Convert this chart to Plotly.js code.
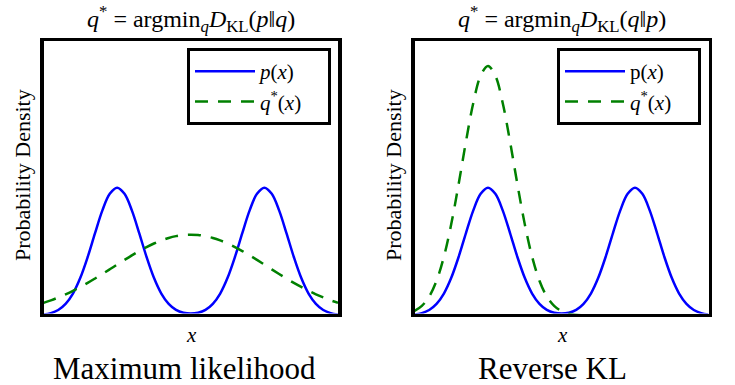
<!DOCTYPE html>
<html>
<head>
<meta charset="utf-8">
<script src="https://cdn.plot.ly/plotly-3.0.1.min.js"></script>
<style>html,body{margin:0;padding:0;background:#fff;}#chart{width:735px;height:385px;}</style>
</head>
<body>
<div id="chart"></div>
<script>
// x positions (shared grid)
var xValues = [-5,-4.75,-4.5,-4.25,-4,-3.75,-3.5,-3.25,-3,-2.75,-2.5,-2.25,-2,-1.75,-1.5,-1.25,-1,-0.75,-0.5,-0.25,0,
  0.25,0.5,0.75,1,1.25,1.5,1.75,2,2.25,2.5,2.75,3,3.25,3.5,3.75,4,4.25,4.5,4.75,5];

// p(x): bimodal target density (same in both panels)
var pValues = [0.0019,0.0048,0.0109,0.0228,0.0429,0.0735,0.1140,0.1605,0.2048,0.2371,0.2490,0.2371,0.2048,0.1605,0.1140,0.0735,0.0429,0.0228,0.0111,0.0055,0.0038,
  0.0055,0.0111,0.0228,0.0429,0.0735,0.1140,0.1605,0.2048,0.2371,0.2490,0.2371,0.2048,0.1605,0.1140,0.0735,0.0429,0.0228,0.0109,0.0048,0.0019];

// q*(x) under forward KL (maximum likelihood): broad, centred
var qForwardValues = [0.0248,0.0297,0.0352,0.0414,0.0482,0.0557,0.0636,0.0721,0.0809,0.0900,0.0992,0.1083,0.1172,0.1256,0.1334,0.1403,0.1463,0.1511,0.1546,0.1568,0.1575,
  0.1568,0.1546,0.1511,0.1463,0.1403,0.1334,0.1256,0.1172,0.1083,0.0992,0.0900,0.0809,0.0721,0.0636,0.0557,0.0482,0.0414,0.0352,0.0297,0.0248];

// q*(x) under reverse KL: narrow, on the left mode
var qReverseValues = [0.0088,0.0188,0.0372,0.0679,0.1145,0.1780,0.2556,0.3386,0.4139,0.4669,0.4860,0.4669,0.4139,0.3386,0.2556,0.1780,0.1145,0.0679,0.0372,0.0188,0.0088,
  0.0038,0.0015,0.0005,0.0002,0,0,0,0,0,0,0,0,0,0,0,0,0,0,0,0];

var PAD = '\u00a0\u00a0\u00a0\u00a0';
var legendLeft = ['<i>p</i>(<i>x</i>)' + PAD, '<i>q</i><sup>*</sup>(<i>x</i>)' + PAD];
var legendRight = ['p(<i>x</i>)' + PAD, '<i>q</i><sup>*</sup>(<i>x</i>)' + PAD];
var panelTitles = ['<i>q</i><sup>*</sup> = argmin<sub><i>q</i></sub><i>D</i><sub>KL</sub>(<i>p</i>‖<i>q</i>)',
                   '<i>q</i><sup>*</sup> = argmin<sub><i>q</i></sub><i>D</i><sub>KL</sub>(<i>q</i>‖<i>p</i>)'];
var panelCaptions = ['Maximum likelihood', 'Reverse KL'];
var xLabel = '<i>x</i>';
var yLabel = 'Probability Density';

var BLUE = '#0000ff', GREEN = '#008000';
var FONT = 'Liberation Serif, DejaVu Serif, serif';
var W = 735, H = 385;

var traces = [
  {x: xValues, y: pValues, name: legendLeft[0], xaxis: 'x', yaxis: 'y', legend: 'legend', legendgroup: 'a',
   mode: 'lines', line: {color: BLUE, width: 2.5, shape: 'spline', smoothing: 1}},
  {x: xValues, y: qForwardValues, name: legendLeft[1], xaxis: 'x', yaxis: 'y', legend: 'legend', legendgroup: 'b',
   mode: 'lines', line: {color: GREEN, width: 2.5, dash: '13px,10px', shape: 'spline', smoothing: 1}},
  {x: xValues, y: pValues, name: legendRight[0], xaxis: 'x2', yaxis: 'y2', legend: 'legend2', legendgroup: 'c',
   mode: 'lines', line: {color: BLUE, width: 2.5, shape: 'spline', smoothing: 1}},
  {x: xValues, y: qReverseValues, name: legendRight[1], xaxis: 'x2', yaxis: 'y2', legend: 'legend2', legendgroup: 'd',
   mode: 'lines', line: {color: GREEN, width: 2.5, dash: '13px,10px', shape: 'spline', smoothing: 1}}
];

function px(v){ return v / W; }
function py(v){ return 1 - v / H; }

var axisCommon = {showgrid: false, zeroline: false, showticklabels: false, ticks: '',
  showline: true, mirror: true, linecolor: '#000', linewidth: 3.5, fixedrange: true};

var yDom = [py(313.5), py(41)];
var legendCommon = {xanchor: 'left', yanchor: 'top', bgcolor: '#fff', bordercolor: '#000', borderwidth: 3,
  font: {size: 21, family: FONT}, traceorder: 'grouped', tracegroupgap: 0, itemwidth: 60};

function ann(text, x, y, size, extra){
  return Object.assign({text: text, x: px(x), y: py(y), xref: 'paper', yref: 'paper', showarrow: false,
    xanchor: 'center', yanchor: 'middle', font: {size: size, family: FONT, color: '#000'}}, extra || {});
}

var layout = {
  width: W, height: H,
  margin: {l: 0, r: 0, t: 0, b: 0},
  paper_bgcolor: '#fff', plot_bgcolor: '#fff',
  font: {family: FONT, color: '#000'},
  xaxis: Object.assign({}, axisCommon, {domain: [px(43.5), px(338)], range: [-5, 5], anchor: 'y'}),
  yaxis: Object.assign({}, axisCommon, {domain: yDom, range: [0.004, 0.5345], anchor: 'x'}),
  xaxis2: Object.assign({}, axisCommon, {domain: [px(414.5), px(708.5)], range: [-5, 5], anchor: 'y2'}),
  yaxis2: Object.assign({}, axisCommon, {domain: yDom, range: [0.004, 0.5345], anchor: 'x2'}),
  legend: Object.assign({}, legendCommon, {x: px(187), y: py(48)}),
  legend2: Object.assign({}, legendCommon, {x: px(557), y: py(48)}),
  showlegend: true,
  annotations: [
    ann(panelTitles[0], 191, 19, 24),
    ann(panelTitles[1], 562, 19, 24),
    ann(xLabel, 191, 335, 21),
    ann(xLabel, 562, 335, 21),
    ann(yLabel, 22, 175, 22, {textangle: -90}),
    ann(yLabel, 393, 175, 22, {textangle: -90}),
    ann(panelCaptions[0], 184, 368, 31),
    ann(panelCaptions[1], 552, 368, 31)
  ]
};

Plotly.newPlot('chart', traces, layout, {staticPlot: true, displayModeBar: false});
</script>
</body>
</html>
